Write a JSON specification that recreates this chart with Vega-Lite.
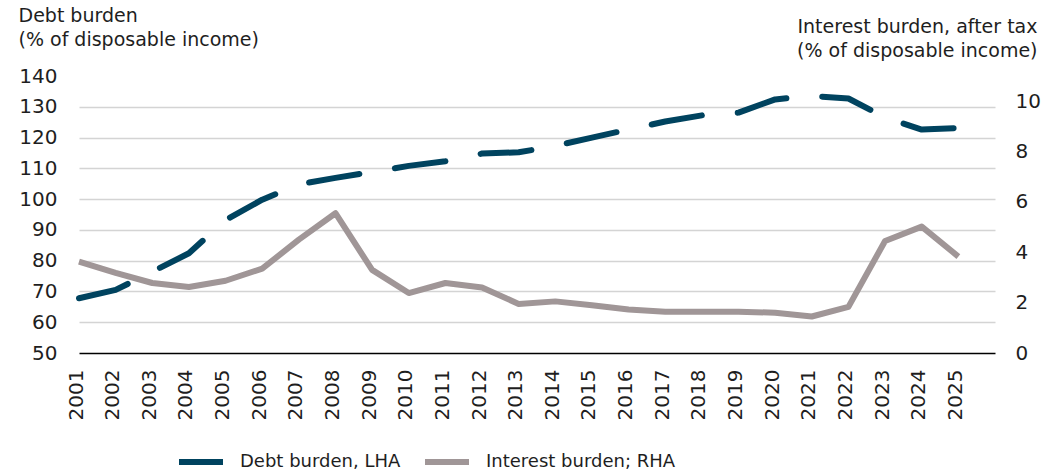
{
  "$schema": "https://vega.github.io/schema/vega-lite/v6.json",
  "width": 916,
  "height": 277,
  "autosize": {"type": "none"},
  "padding": {"left": 79, "top": 76, "right": 57, "bottom": 121},
  "background": "white",
  "config": {
    "view": {"stroke": null},
    "font": "DejaVu Sans",
    "axis": {"labelFont": "DejaVu Sans", "titleFont": "DejaVu Sans", "labelColor": "#1e1e1e", "titleColor": "#1e1e1e", "titleFontWeight": "normal"},
    "legend": {"labelFont": "DejaVu Sans", "labelColor": "#1e1e1e"}
  },
  "data": {
    "values": [
      {"year": 2001, "debt": 67.8, "interest": 3.63},
      {"year": 2002, "debt": 70.5, "interest": 3.18},
      {"year": 2003, "debt": 76.4, "interest": 2.78},
      {"year": 2004, "debt": 82.4, "interest": 2.62},
      {"year": 2005, "debt": 93.2, "interest": 2.87},
      {"year": 2006, "debt": 99.8, "interest": 3.35},
      {"year": 2007, "debt": 104.8, "interest": 4.5},
      {"year": 2008, "debt": 106.9, "interest": 5.55},
      {"year": 2009, "debt": 108.8, "interest": 3.3},
      {"year": 2010, "debt": 110.8, "interest": 2.38},
      {"year": 2011, "debt": 112.3, "interest": 2.78},
      {"year": 2012, "debt": 114.8, "interest": 2.6},
      {"year": 2013, "debt": 115.2, "interest": 1.95},
      {"year": 2014, "debt": 117.3, "interest": 2.05},
      {"year": 2015, "debt": 120.0, "interest": 1.9},
      {"year": 2016, "debt": 122.6, "interest": 1.73},
      {"year": 2017, "debt": 125.2, "interest": 1.64},
      {"year": 2018, "debt": 127.2, "interest": 1.64},
      {"year": 2019, "debt": 128.1, "interest": 1.64},
      {"year": 2020, "debt": 132.4, "interest": 1.6},
      {"year": 2021, "debt": 133.5, "interest": 1.45},
      {"year": 2022, "debt": 132.7, "interest": 1.83},
      {"year": 2023, "debt": 126.5, "interest": 4.45},
      {"year": 2024, "debt": 122.6, "interest": 5.02},
      {"year": 2025, "debt": 123.1, "interest": 3.83}
    ]
  },
  "encoding": {
    "x": {
      "field": "year",
      "type": "quantitative",
      "scale": {"domain": [2001, 2026], "nice": false, "zero": false},
      "axis": {
        "title": null,
        "values": [2001,2002,2003,2004,2005,2006,2007,2008,2009,2010,2011,2012,2013,2014,2015,2016,2017,2018,2019,2020,2021,2022,2023,2024,2025],
        "format": "d",
        "labelAngle": -90,
        "labelFontSize": 20,
        "labelPadding": 16,
        "labelOffset": -3,
        "labelOverlap": false,
        "labelFlush": false,
        "ticks": false,
        "grid": false,
        "domain": true,
        "domainColor": "#000000",
        "domainWidth": 1.5
      }
    }
  },
  "layer": [
    {
      "mark": {"type": "line", "strokeWidth": 6, "strokeCap": "round", "strokeDash": [51, 36], "strokeJoin": "round"},
      "encoding": {
        "y": {
          "field": "debt",
          "type": "quantitative",
          "scale": {"domain": [50, 140], "nice": false, "zero": false},
          "axis": {
            "orient": "left",
            "values": [50,60,70,80,90,100,110,120,130,140],
            "title": ["Debt burden", "(% of disposable income)"],
            "titleAngle": 0,
            "titleAlign": "left",
            "titleBaseline": "top",
            "titleX": -61,
            "titleY": -70,
            "titleFontSize": 19,
            "titleLineHeight": 24,
            "labelFontSize": 20,
            "labelPadding": 22,
            "ticks": false,
            "domain": false,
            "grid": true,
            "gridColor": "#d4d4d4",
            "gridWidth": 1.5,
            "gridOpacity": {"condition": {"test": "datum.value >= 140 || datum.value <= 50", "value": 0}, "value": 1}
          }
        },
        "color": {
          "datum": "Debt burden, LHA",
          "scale": {"domain": ["Debt burden, LHA", "Interest burden; RHA"], "range": ["#00435f", "#a09697"]},
          "legend": {
            "title": null,
            "orient": "none",
            "direction": "horizontal",
            "legendX": 97,
            "legendY": 361,
            "symbolType": "stroke",
            "symbolSize": 1936,
            "symbolStrokeWidth": 6,
            "labelFontSize": 18,
            "labelLimit": 0,
            "labelOffset": 14,
            "columnPadding": 12,
            "padding": 0
          }
        }
      }
    },
    {
      "mark": {"type": "line", "strokeWidth": 6, "strokeJoin": "round"},
      "encoding": {
        "y": {
          "field": "interest",
          "type": "quantitative",
          "scale": {"domain": [0, 11], "nice": false, "zero": true},
          "axis": {
            "orient": "right",
            "values": [0,2,4,6,8,10],
            "title": ["Interest burden, after tax", "(% of disposable income)"],
            "titleAngle": 0,
            "titleAlign": "right",
            "titleBaseline": "top",
            "titleX": 42,
            "titleY": -59,
            "titleFontSize": 19,
            "titleLineHeight": 24,
            "labelFontSize": 20,
            "labelPadding": 20,
            "ticks": false,
            "domain": false,
            "grid": false
          }
        },
        "color": {"datum": "Interest burden; RHA"}
      }
    }
  ],
  "resolve": {"scale": {"y": "independent"}}
}
